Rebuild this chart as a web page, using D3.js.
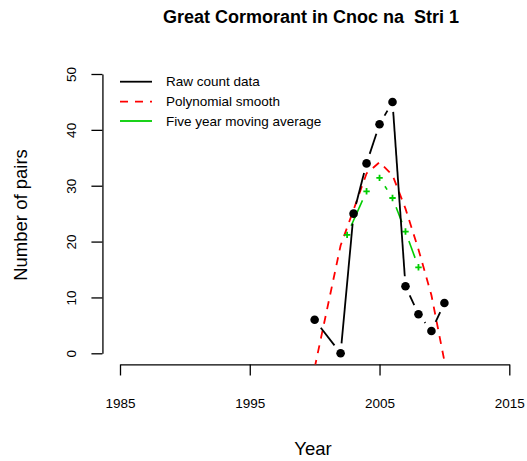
<!DOCTYPE html>
<html>
<head>
<meta charset="utf-8">
<script src="https://cdn.jsdelivr.net/npm/d3@7"></script>
<style>
  html, body { margin: 0; padding: 0; background: #fff; }
  svg { display: block; font-family: "Liberation Sans", Arial, Helvetica, sans-serif; }
</style>
</head>
<body>
<script>
// ---- data ----
const years = [2000, 2002, 2003, 2004, 2005, 2006, 2007, 2008, 2009, 2010];
const rawCounts = [6, 0, 25, 34, 41, 45, 12, 7, 4, 9];
const smoothValues = [-2.6, 19.3, 25.7, 32.2, 34.2, 31.9, 25.9, 18.6, 10.4, -1.4];
const maYears = [2002.5, 2004, 2005, 2006, 2007, 2008];
const maValues = [21.2, 29.0, 31.4, 27.8, 21.8, 15.4];
const xTicks = [1985, 1995, 2005, 2015];
const yTicks = [0, 10, 20, 30, 40, 50];
const legendLabels = ["Raw count data", "Polynomial smooth", "Five year moving average"];
const titleText = "Great Cormorant in Cnoc na  Stri 1";
const xLabel = "Year";
const yLabel = "Number of pairs";

// ---- layout ----
const W = 527, H = 461;
const GREEN = "#00CD00", RED = "#FF0000";
const x = d3.scaleLinear().domain([1985, 2015]).range([120, 509.3]);
const y = d3.scaleLinear().domain([0, 50]).range([353.3, 74]);
const plotLeft = x(1983.8), plotRight = x(2016.2), plotTop = y(52), plotBottom = y(-2);

const svg = d3.select("body").append("svg").attr("width", W).attr("height", H);

svg.append("defs").append("clipPath").attr("id", "plotclip")
  .append("rect").attr("x", plotLeft).attr("y", plotTop)
  .attr("width", plotRight - plotLeft).attr("height", plotBottom - plotTop);

// title
svg.append("text").attr("x", 311).attr("y", 23).attr("text-anchor", "middle")
  .style("white-space", "pre").attr("xml:space", "preserve")
  .attr("font-weight", "bold").attr("font-size", 18).text(titleText);

// x axis
const xAxis = svg.append("g").attr("transform", `translate(0,${plotBottom})`)
  .call(d3.axisBottom(x).tickValues(xTicks).tickSize(11).tickSizeOuter(0).tickFormat(d3.format("d")));
xAxis.selectAll("path, line").attr("stroke", "#000").attr("stroke-width", 1.3);
xAxis.selectAll("text").attr("font-size", 13.5).attr("fill", "#000").attr("y", 0).attr("dy", 0)
  .attr("transform", "translate(0,44)");

// y axis
const yAxis = svg.append("g").attr("transform", `translate(${plotLeft - 2},0)`)
  .call(d3.axisLeft(y).tickValues(yTicks).tickSize(11).tickSizeOuter(0));
yAxis.selectAll("path, line").attr("stroke", "#000").attr("stroke-width", 1.3);
yAxis.selectAll("text").attr("font-size", 13.5).attr("fill", "#000")
  .attr("x", 0).attr("dy", 0).attr("text-anchor", "middle")
  .attr("transform", "translate(-26,0) rotate(-90)");

// axis titles
svg.append("text").attr("x", 313).attr("y", 455).attr("text-anchor", "middle")
  .attr("font-size", 18.5).text(xLabel);
svg.append("text").attr("transform", `translate(27,215) rotate(-90)`).attr("text-anchor", "middle")
  .attr("font-size", 18.5).text(yLabel);

const plot = svg.append("g").attr("clip-path", "url(#plotclip)");

// helper for R type "b" segments with gaps
function gappedSegments(xs, ys, gap) {
  const segs = [];
  for (let i = 0; i < xs.length - 1; i++) {
    const x1 = x(xs[i]), y1 = y(ys[i]), x2 = x(xs[i + 1]), y2 = y(ys[i + 1]);
    const dx = x2 - x1, dy = y2 - y1, L = Math.hypot(dx, dy);
    if (L <= 2 * gap) continue;
    const ux = dx / L, uy = dy / L;
    segs.push([x1 + ux * gap, y1 + uy * gap, x2 - ux * gap, y2 - uy * gap]);
  }
  return segs;
}

// polynomial smooth (red dashed)
plot.append("path")
  .datum(years.map((d, i) => [d, smoothValues[i]]))
  .attr("d", d3.line().x(d => x(d[0])).y(d => y(d[1])))
  .attr("fill", "none").attr("stroke", RED).attr("stroke-width", 1.8)
  .attr("stroke-dasharray", "8,7");

// moving average (green, type b)
plot.selectAll("line.ma").data(gappedSegments(maYears, maValues, 10)).enter()
  .append("line").attr("class", "ma")
  .attr("x1", d => d[0]).attr("y1", d => d[1]).attr("x2", d => d[2]).attr("y2", d => d[3])
  .attr("stroke", GREEN).attr("stroke-width", 1.6);
const plus = plot.selectAll("g.plus").data(maYears.map((d, i) => [d, maValues[i]])).enter()
  .append("g").attr("class", "plus").attr("transform", d => `translate(${x(d[0])},${y(d[1])})`);
plus.append("line").attr("x1", -3.2).attr("x2", 3.2).attr("stroke", GREEN).attr("stroke-width", 1.8);
plus.append("line").attr("y1", -3.2).attr("y2", 3.2).attr("stroke", GREEN).attr("stroke-width", 1.8);

// raw counts (black, type b)
plot.selectAll("line.raw").data(gappedSegments(years, rawCounts, 10)).enter()
  .append("line").attr("class", "raw")
  .attr("x1", d => d[0]).attr("y1", d => d[1]).attr("x2", d => d[2]).attr("y2", d => d[3])
  .attr("stroke", "#000").attr("stroke-width", 1.8);
plot.selectAll("circle.raw").data(years.map((d, i) => [d, rawCounts[i]])).enter()
  .append("circle").attr("class", "raw")
  .attr("cx", d => x(d[0])).attr("cy", d => y(d[1])).attr("r", 4.3).attr("fill", "#000");

// legend
const legendColors = ["#000", RED, GREEN];
const legendDash = [null, "8,7", null];
const legendY = [81.7, 101.7, 121];
const lg = svg.append("g");
legendLabels.forEach((lab, i) => {
  lg.append("line").attr("x1", 120).attr("x2", 152).attr("y1", legendY[i]).attr("y2", legendY[i])
    .attr("stroke", legendColors[i]).attr("stroke-width", 1.8)
    .attr("stroke-dasharray", legendDash[i]);
  lg.append("text").attr("x", 166).attr("y", legendY[i]).attr("dy", "0.35em")
    .attr("font-size", 13.5).text(lab);
});
</script>
</body>
</html>
